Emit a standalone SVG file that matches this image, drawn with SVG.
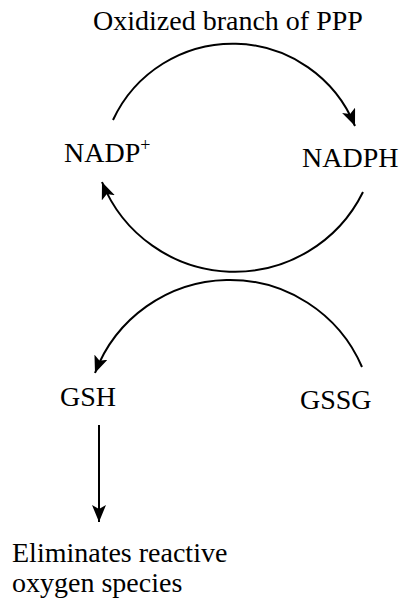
<svg xmlns="http://www.w3.org/2000/svg" width="402" height="602" viewBox="0 0 402 602">
<style>
text{font-family:"Liberation Serif","Times New Roman",serif;font-size:28px;fill:#000}
.c{fill:none;stroke:#000;stroke-width:2}
</style>
<defs>
<marker id="ah" markerUnits="userSpaceOnUse" markerWidth="18" markerHeight="14" refX="17" refY="7" orient="auto">
<path d="M0,0 L17,7 L0,14 L4,7 Z" fill="#000"/>
</marker>
</defs>
<rect width="402" height="602" fill="#fff"/>
<g id="title"><text x="93" y="30">Oxidized branch of PPP</text></g>
<g id="nadp"><text x="64" y="162">NADP<tspan font-size="18" dy="-11">+</tspan></text></g>
<g id="nadph"><text x="302" y="167">NADPH</text></g>
<g id="gsh"><text x="60" y="406">GSH</text></g>
<g id="gssg"><text x="300" y="409">GSSG</text></g>
<g id="ros"><text x="12" y="562">Eliminates reactive</text><text x="12" y="592">oxygen species</text></g>
<g id="connectors">
<path class="c" d="M113,120 A132,132 0 0 1 355,126" marker-end="url(#ah)"/>
<path class="c" d="M363,192 A143,143 0 0 1 102,182" marker-end="url(#ah)"/>
<path class="c" d="M362,367 A144,144 0 0 0 95,373" marker-end="url(#ah)"/>
<path class="c" d="M99,425 L99,522" marker-end="url(#ah)"/>
</g>
</svg>
